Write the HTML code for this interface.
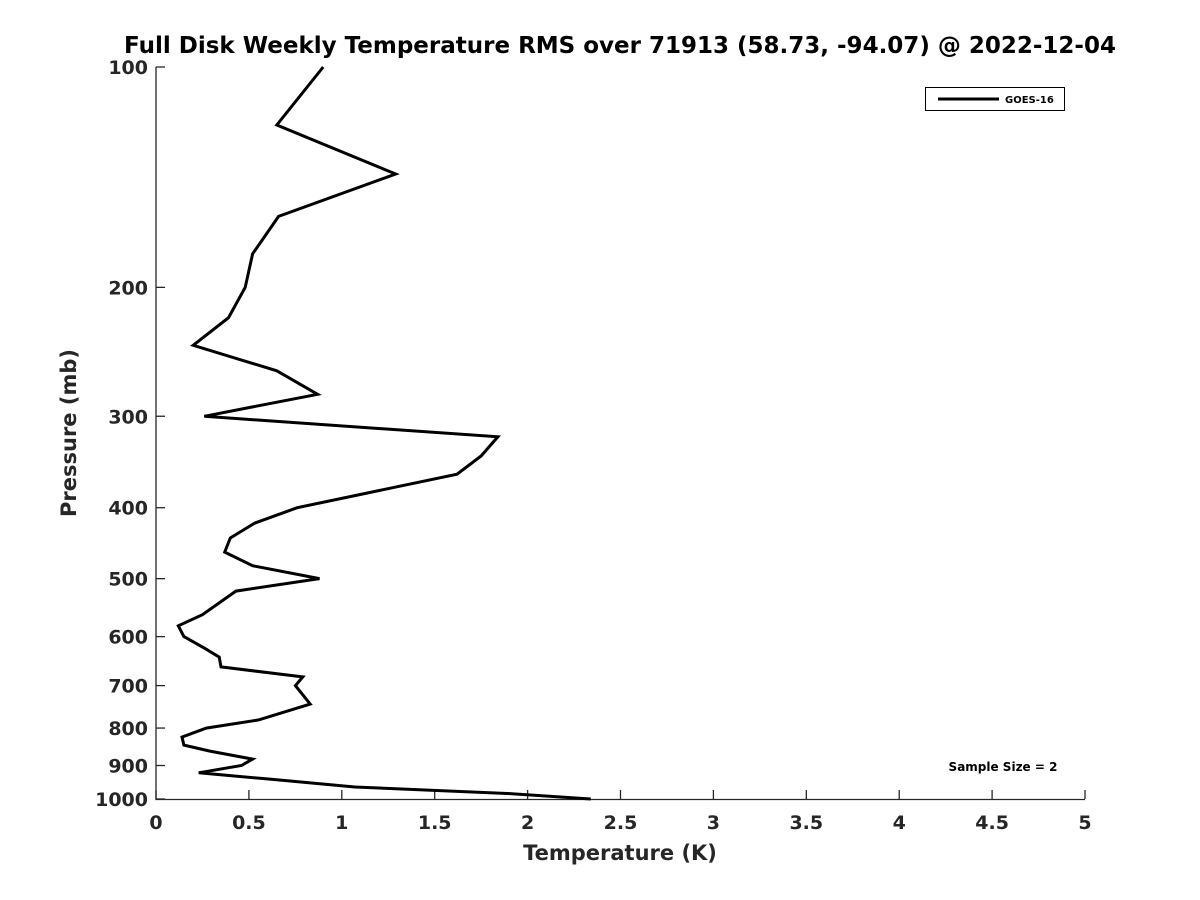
<!DOCTYPE html>
<html><head><meta charset="utf-8"><style>
body{margin:0;background:#fff}
svg{display:block;font-family:"DejaVu Sans","Liberation Sans",sans-serif;font-weight:bold}
</style></head><body>
<svg id="chart" width="1200" height="900">
<text x="620" y="53" text-anchor="middle" font-size="23" fill="#000">Full Disk Weekly Temperature RMS over 71913 (58.73, -94.07) @ 2022-12-04</text>
<g id="axes"></g>
<path id="line" fill="none" stroke="#000" stroke-width="3" stroke-linejoin="miter"/>
<g>
<rect x="925.5" y="87.5" width="139" height="23" fill="#fff" stroke="#000" stroke-width="1"/>
<line x1="938" y1="99" x2="999" y2="99" stroke="#000" stroke-width="3"/>
<text x="1005" y="103" font-size="10">GOES-16</text>
</g>
<text x="1003" y="771" text-anchor="middle" font-size="12">Sample Size = 2</text>
<text x="620" y="860" text-anchor="middle" font-size="21" fill="#262626">Temperature (K)</text>
<text transform="translate(76,433) rotate(-90)" text-anchor="middle" font-size="21" fill="#262626">Pressure (mb)</text>
</svg>
<script>
const pressures=[100,120,140,160,180,200,220,240,260,280,300,320,340,360,400,420,440,460,480,500,520,560,580,600,622,640,660,681,700,742,780,800,823,844,860,882,900,921,940,963,983,1000];
const temps=[0.90,0.65,1.29,0.66,0.52,0.48,0.39,0.20,0.65,0.87,0.26,1.84,1.75,1.62,0.76,0.53,0.40,0.37,0.52,0.88,0.43,0.25,0.12,0.15,0.26,0.34,0.35,0.79,0.75,0.83,0.55,0.27,0.14,0.15,0.29,0.52,0.46,0.23,0.62,1.07,1.89,2.34];
const xTicks=[0,0.5,1,1.5,2,2.5,3,3.5,4,4.5,5];
const yTicks=[100,200,300,400,500,600,700,800,900,1000];
const X0=156,X1=1085,Y0=67,Y1=799;
const xs=v=>X0+(v-0)/(5-0)*(X1-X0);
const ys=p=>Y0+(Math.log10(p)-2)*(Y1-Y0);
const NS="http://www.w3.org/2000/svg";
const ax=document.getElementById('axes');
function mk(t,a){const e=document.createElementNS(NS,t);for(const k in a)e.setAttribute(k,a[k]);return e;}
const la=mk('path',{d:`M${X0},${Y0}V${Y1+0.5}H${X1}`,fill:'none',stroke:'#262626','stroke-width':1.3});


ax.appendChild(la);
xTicks.forEach(v=>{
 const x=xs(v);
 const t=mk('line',{x1:x,x2:x,y1:Y1,y2:Y1-9,stroke:'#262626','stroke-width':1.3});
 
 
 ax.appendChild(t);
 const l=mk('text',{x:x,y:Y1+30,'text-anchor':'middle','font-size':19,fill:'#262626'});
 l.textContent=String(v);
 
 
 ax.appendChild(l);
});
yTicks.forEach(p=>{
 const y=ys(p);
 const t=mk('line',{x1:X0,x2:X0+9,y1:y,y2:y,stroke:'#262626','stroke-width':1.3});
 
 
 ax.appendChild(t);
 const l=mk('text',{x:X0-8,y:y+7,'text-anchor':'end','font-size':19,fill:'#262626'});
 l.textContent=String(p);
 
 
 ax.appendChild(l);
});
document.getElementById('line').setAttribute('d',pressures.map((p,i)=>(i?'L':'M')+xs(temps[i]).toFixed(1)+','+ys(p).toFixed(1)).join(''));
</script>
</body></html>
